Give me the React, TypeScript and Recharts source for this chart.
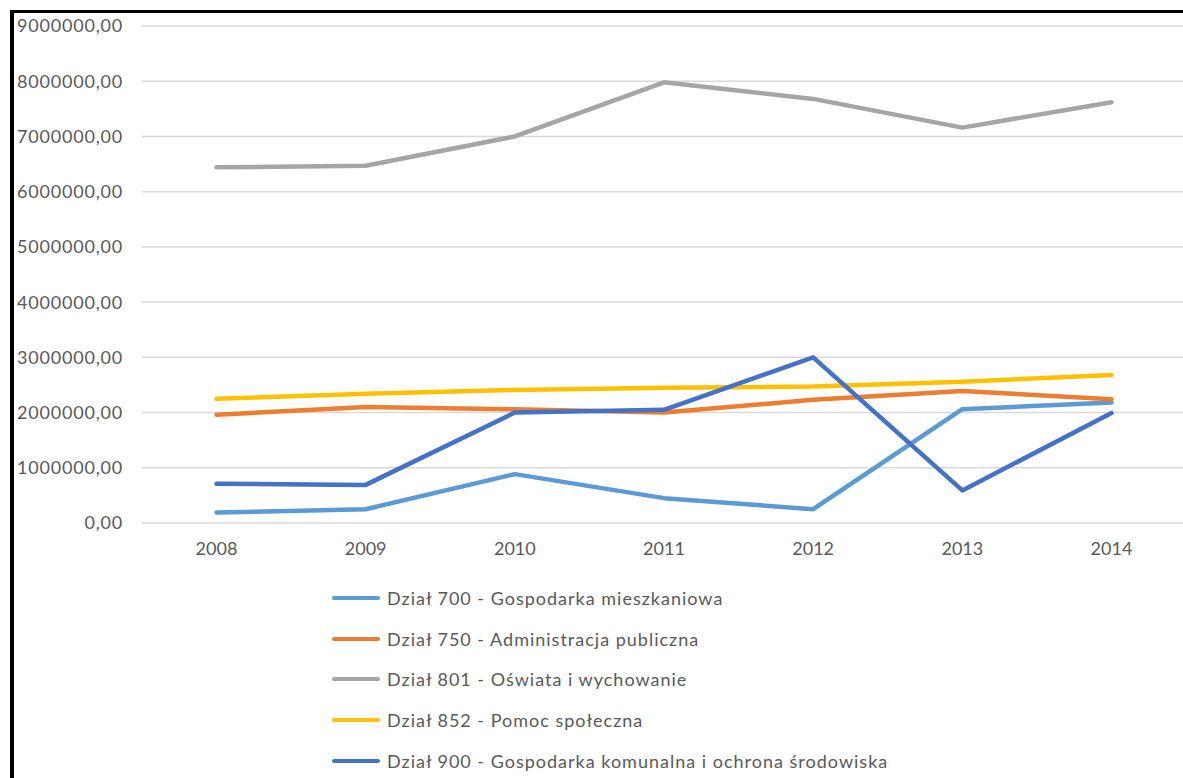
import React from 'react';
import { LineChart, Line, XAxis, YAxis, CartesianGrid, Legend } from 'recharts';

const years = ['2008', '2009', '2010', '2011', '2012', '2013', '2014'];
const dzial700 = [190000, 250000, 885000, 450000, 250000, 2060000, 2180000];
const dzial750 = [1960000, 2100000, 2060000, 2000000, 2230000, 2390000, 2240000];
const dzial801 = [6440000, 6470000, 7000000, 7980000, 7680000, 7160000, 7620000];
const dzial852 = [2250000, 2340000, 2410000, 2450000, 2470000, 2560000, 2680000];
const dzial900 = [710000, 690000, 2000000, 2050000, 3000000, 590000, 1990000];
const yTicks = [0, 1000000, 2000000, 3000000, 4000000, 5000000, 6000000, 7000000, 8000000, 9000000];

const seriesNames = [
  'Dział 700 - Gospodarka mieszkaniowa',
  'Dział 750 - Administracja publiczna',
  'Dział 801 - Oświata i wychowanie',
  'Dział 852 - Pomoc społeczna',
  'Dział 900 - Gospodarka komunalna i ochrona środowiska',
];
const seriesColors = ['#5B9BD5', '#ED7D31', '#A5A5A5', '#FFC000', '#4472C4'];
const seriesKeys = ['d700', 'd750', 'd801', 'd852', 'd900'];
const seriesValues = [dzial700, dzial750, dzial801, dzial852, dzial900];

const data = years.map((year, i) => {
  const row: Record<string, string | number> = { year };
  seriesKeys.forEach((k, s) => {
    row[k] = seriesValues[s][i];
  });
  return row;
});

const FONT = 'Lato, "Open Sans", sans-serif';
const TEXT = '#595959';

const formatY = (v: number) => v.toFixed(2).replace('.', ',');

const LegendContent = (props: any) => {
  const payload = props.payload || [];
  return (
    <div style={{ fontFamily: FONT, fontSize: 18, color: TEXT }}>
      {payload.map((entry: any, i: number) => (
        <div key={i} style={{ display: 'flex', alignItems: 'center', height: 40.6 }}>
          <svg width={48} height={6} style={{ display: 'block' }}>
            <line x1={2} y1={3} x2={46} y2={3} stroke={entry.color} strokeWidth={4} strokeLinecap="round" />
          </svg>
          <span style={{ marginLeft: 7, whiteSpace: 'nowrap', letterSpacing: 1 }}>{entry.value}</span>
        </div>
      ))}
    </div>
  );
};

export default function App() {
  return (
    <div
      style={{
        position: 'absolute',
        left: 0,
        top: 0,
        width: 1183,
        height: 778,
        overflow: 'hidden',
        background: '#ffffff',
        fontFamily: FONT,
      }}
    >
      <div style={{ position: 'absolute', left: 10, top: 10, width: 1173, height: 3, background: '#000' }} />
      <div style={{ position: 'absolute', left: 10, top: 10, width: 4, height: 768, background: '#000' }} />
      <div style={{ position: 'absolute', left: 0, top: 0 }}>
        <LineChart
          width={1186}
          height={778}
          data={data}
          margin={{ top: 26, right: 0, bottom: 215, left: 0 }}
        >
          <CartesianGrid horizontal={true} vertical={false} stroke="#d9d9d9" strokeWidth={1.5} />
          <XAxis
            dataKey="year"
            height={40}
            axisLine={false}
            tickLine={false}
            tickSize={0}
            tickMargin={19}
            padding={{ left: 74.5, right: 74.5 }}
            tick={{ fontSize: 18, fill: TEXT, fontFamily: FONT }}
            interval={0}
          />
          <YAxis
            width={142}
            domain={[0, 9000000]}
            ticks={yTicks}
            axisLine={false}
            tickLine={false}
            tickSize={0}
            tickMargin={19}
            tickFormatter={formatY}
            tick={{ fontSize: 18, fill: TEXT, fontFamily: FONT, letterSpacing: 0.8 }}
            interval={0}
          />
          {seriesKeys.map((k, s) => (
            <Line
              key={k}
              type="linear"
              dataKey={k}
              name={seriesNames[s]}
              stroke={seriesColors[s]}
              strokeWidth={4.5}
              strokeLinecap="round"
              strokeLinejoin="round"
              dot={false}
              activeDot={false}
              isAnimationActive={false}
            />
          ))}
          <Legend
            layout="vertical"
            align="center"
            verticalAlign="middle"
            wrapperStyle={{ left: 332, top: 578, width: 760 }}
            content={<LegendContent />}
          />
        </LineChart>
      </div>
    </div>
  );
}
